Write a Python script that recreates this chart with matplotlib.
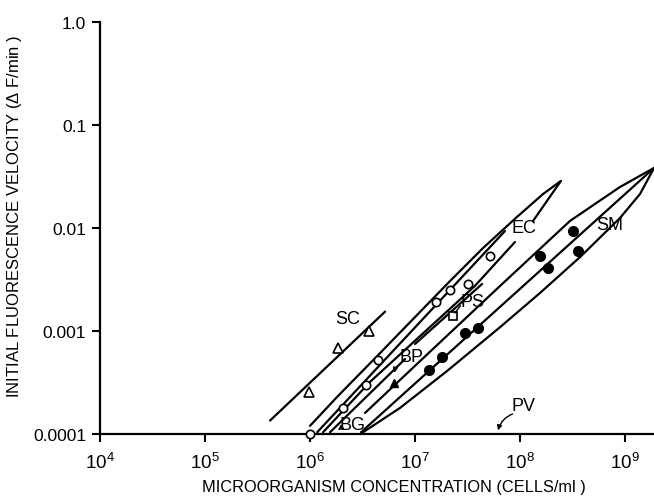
import numpy as np
import matplotlib.pyplot as plt

plt.rcParams['font.family'] = ['Liberation Sans', 'DejaVu Sans']
plt.rcParams['mathtext.fontset'] = 'custom'
plt.rcParams['mathtext.rm'] = 'Liberation Sans'
plt.rcParams['mathtext.it'] = 'Liberation Sans'

# SC (triangles)
sc_x = [9.8e5, 1.84e6, 3.65e6]
sc_y = [2.54e-4, 6.84e-4, 9.93e-4]
sc_line_x = [4.16e5, 5.18e6]
sc_line_y = [1.35e-4, 1.54e-3]

# EC (open circles)
ec_x = [1.0e6, 2.05e6, 3.39e6, 4.47e6, 1.57e7, 2.17e7, 3.22e7, 5.18e7]
ec_y = [1.0e-4, 1.78e-4, 3.01e-4, 5.26e-4, 1.92e-3, 2.48e-3, 2.88e-3, 5.35e-3]
ec_line_x = [1.17e6, 7.19e7]
ec_line_y = [1.04e-4, 9.35e-3]
ec_up_x = [1.0e6, 1.81e6, 4.65e6, 2.15e7, 4.45e7, 9.35e7, 1.66e8, 2.45e8]
ec_up_y = [1.20e-4, 2.29e-4, 6.11e-4, 3.05e-3, 6.40e-3, 1.28e-2, 2.14e-2, 2.86e-2]
ec_lo1_x = [2.45e8, 1.33e8]
ec_lo1_y = [2.86e-2, 1.17e-2]
ec_lo2_x = [8.95e7, 3.72e7, 3.72e6, 1.33e6]
ec_lo2_y = [7.31e-3, 2.74e-3, 3.20e-4, 1.04e-4]

# PS (square)
ps_x = [2.28e7]
ps_y = [1.40e-3]
ps_line_x = [1.0e7, 4.35e7]
ps_line_y = [7.48e-4, 2.86e-3]

# BP (filled triangle)
bp_x = [6.31e6]
bp_y = [3.10e-4]

# BG
bg_line_x = [1.55e6, 8.03e6]
bg_line_y = [1.04e-4, 5.34e-4]

# SM (filled circles)
sm_x = [1.37e7, 1.82e7, 3.01e7, 3.94e7, 1.55e8, 1.86e8, 3.22e8, 3.59e8]
sm_y = [4.14e-4, 5.53e-4, 9.51e-4, 1.08e-3, 5.38e-3, 4.09e-3, 9.42e-3, 6.03e-3]
sm_line_x = [3.06e6, 1.89e9]
sm_line_y = [1.04e-4, 3.83e-2]
sm_up_x = [3.34e6, 1.12e7, 6.46e7, 2.99e8, 8.95e8, 1.89e9]
sm_up_y = [1.60e-4, 5.12e-4, 2.74e-3, 1.17e-2, 2.50e-2, 3.83e-2]
sm_lo_x = [3.20e6, 7.19e6, 2.02e7, 6.46e7, 1.55e8, 3.73e8, 8.95e8, 1.39e9, 1.89e9]
sm_lo_y = [1.04e-4, 1.79e-4, 4.09e-4, 1.09e-3, 2.34e-3, 5.22e-3, 1.25e-2, 2.14e-2, 3.83e-2]

xticks = [1e4, 1e5, 1e6, 1e7, 1e8, 1e9]
xticklabels = ['$10^4$', '$10^5$', '$10^6$', '$10^7$', '$10^8$', '$10^9$']
yticks = [1e-4, 1e-3, 1e-2, 1e-1, 1.0]
yticklabels = ['0.0001', '0.001', '0.01', '0.1', '1.0']

fig = plt.figure(figsize=(6.54, 5.02), dpi=100)
ax = fig.add_axes([0.153, 0.1335, 0.847, 0.8207])
ax.set_xscale('log')
ax.set_yscale('log')
ax.set_xlim(1e4, 10 ** 9.276)
ax.set_ylim(1e-4, 1.0)

lw = 1.6
kw = dict(color='black', lw=lw, solid_capstyle='round', solid_joinstyle='round', clip_on=False)
ax.plot(sc_line_x, sc_line_y, **kw)
ax.plot(ec_line_x, ec_line_y, **kw)
ax.plot(ec_up_x, ec_up_y, **kw)
ax.plot(ec_lo1_x, ec_lo1_y, **kw)
ax.plot(ec_lo2_x, ec_lo2_y, **kw)
ax.plot(ps_line_x, ps_line_y, **kw)
ax.plot(bg_line_x, bg_line_y, **kw)
ax.plot(sm_line_x, sm_line_y, **kw)
ax.plot(sm_up_x, sm_up_y, **kw)
ax.plot(sm_lo_x, sm_lo_y, **kw)

ax.plot(sc_x, sc_y, '^', ms=7, mfc='white', mec='black', mew=1.2, ls='none')
ax.plot(ec_x, ec_y, 'o', ms=6, mfc='white', mec='black', mew=1.2, ls='none', clip_on=False, zorder=5)
ax.plot(ps_x, ps_y, 's', ms=5.5, mfc='white', mec='black', mew=1.2, ls='none')
ax.plot(bp_x, bp_y, '^', ms=6, mfc='black', mec='black', ls='none')
ax.plot(sm_x, sm_y, 'o', ms=7, mfc='black', mec='black', ls='none')

tkw = dict(fontsize=13, ha='center', va='center')
ax.text(2.3e6, 1.31e-3, 'SC', **tkw)
ax.text(1.09e8, 1.0e-2, 'EC', **tkw)
ax.text(3.49e7, 1.95e-3, 'PS', **tkw)
ax.text(9.16e6, 5.7e-4, 'BP', **tkw)
ax.text(2.51e6, 1.25e-4, 'BG', **tkw)
ax.text(7.2e8, 1.07e-2, 'SM', **tkw)
ax.text(1.09e8, 1.91e-4, 'PV', **tkw)

akw = dict(arrowstyle='-|>', color='black', lw=1.0, mutation_scale=7)
ax.annotate('', xy=(6.1e7, 1.02e-4), xytext=(9.0e7, 1.6e-4),
            arrowprops=dict(akw, connectionstyle='arc3,rad=0.3'))
ax.annotate('', xy=(1.75e6, 1.05e-4), xytext=(2.1e6, 1.2e-4), arrowprops=akw)
ax.annotate('', xy=(6.3e6, 3.7e-4), xytext=(6.5e6, 4.4e-4), arrowprops=akw)
ax.plot([2.4e7, 2.7e7], [1.5e-3, 1.75e-3], color='black', lw=1.0)

for s in ['top', 'right']:
    ax.spines[s].set_visible(False)
for s in ['left', 'bottom']:
    ax.spines[s].set_linewidth(1.6)

ax.set_xticks(xticks)
ax.set_xticklabels(xticklabels, fontsize=13.5)
ax.set_yticks(yticks)
ax.set_yticklabels(yticklabels, fontsize=12.5)
ax.minorticks_off()
ax.tick_params(direction='out', length=6, width=1.5, pad=4)
ax.tick_params(axis='x', pad=7)

ax.set_xlabel('MICROORGANISM CONCENTRATION (CELLS/ml )', fontsize=11.8)
ax.set_ylabel('INITIAL FLUORESCENCE VELOCITY ($\\Delta$ F/min )', fontsize=12)
ax.xaxis.set_label_coords(0.53, -0.11)
ax.yaxis.set_label_coords(-0.137, 0.53)

fig.savefig('out.png', dpi=100)
